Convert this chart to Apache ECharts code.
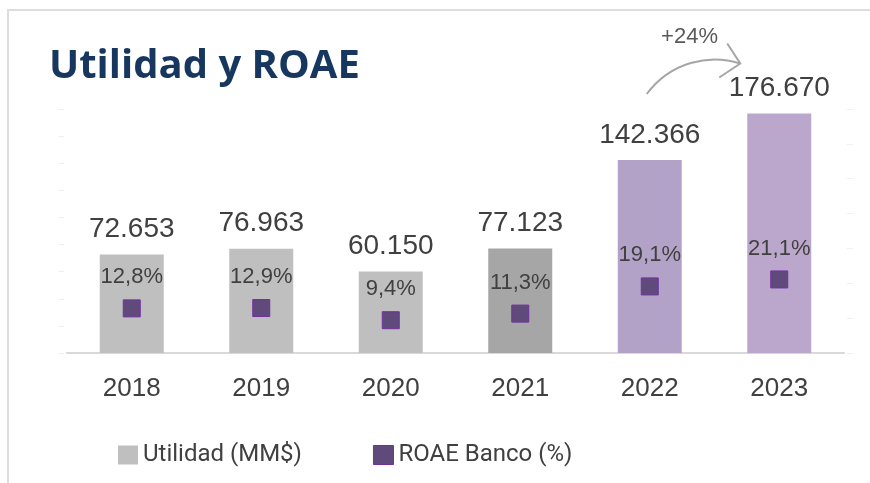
<!DOCTYPE html>
<html>
<head>
  <meta charset="utf-8">
  <title>Utilidad y ROAE</title>
  <style type="text/css">
    html, body { margin: 0; padding: 0; background: #fff; }
    #main { width: 870px; height: 483px; }
  </style>
</head>
<body>
<div id="main"></div>
<script type="text/javascript" src="https://cdn.jsdelivr.net/npm/echarts@6/dist/echarts.min.js"></script>
<script type="text/javascript">
  var years = ['2018', '2019', '2020', '2021', '2022', '2023'];
  var utilidad = [72653, 76963, 60150, 77123, 142366, 176670];
  var roae = [12.8, 12.9, 9.4, 11.3, 19.1, 21.1];

  var barColors = ['#bfbfbf', '#bfbfbf', '#bfbfbf', '#a6a6a6', '#b3a2c7', '#bca7cc'];
  var txt = '#404040';

  function fmtMiles(v) {
    return String(v).replace(/\B(?=(\d{3})+(?!\d))/g, '.');
  }
  function fmtPct(v) {
    return v.toFixed(1).replace('.', ',') + '%';
  }

  var myChart = echarts.init(document.getElementById('main'));

  var option = {
    backgroundColor: '#fff',
    animation: false,
    title: {
      text: 'Utilidad y ROAE',
      left: 44,
      top: 42,
      textStyle: {
        fontFamily: 'Open Sans',
        fontWeight: 700,
        fontSize: 40,
        color: '#17375e'
      }
    },
    legend: {
      bottom: 11,
      left: 113,
      itemWidth: 20,
      itemHeight: 19,
      itemGap: 71,
      textStyle: {
        fontFamily: 'Roboto',
        fontSize: 24,
        color: txt
      },
      data: [
        { name: 'Utilidad (MM$)', icon: 'rect', itemStyle: { color: '#bfbfbf' } },
        { name: 'ROAE Banco (%)', icon: 'rect', itemStyle: { color: '#604a7b', borderColor: '#7030a0', borderWidth: 1 } }
      ]
    },
    grid: {
      left: 67,
      right: 26,
      top: 109,
      bottom: 130
    },
    xAxis: {
      type: 'category',
      data: years,
      axisLine: { lineStyle: { color: '#d9d9d9', width: 2 } },
      axisTick: { show: false },
      axisLabel: {
        margin: 23,
        fontFamily: 'Liberation Sans',
        fontSize: 26,
        color: txt
      }
    },
    yAxis: [
      {
        type: 'value',
        min: 0,
        max: 180000,
        interval: 20000,
        offset: 3,
        axisLine: { show: false },
        axisTick: { show: true, length: 6, lineStyle: { color: '#f0f0f0' } },
        axisLabel: { show: false },
        splitLine: { show: false }
      },
      {
        type: 'value',
        min: 0,
        max: 70,
        interval: 10,
        offset: 3,
        axisLine: { show: false },
        axisTick: { show: true, length: 6, lineStyle: { color: '#f0f0f0' } },
        axisLabel: { show: false },
        splitLine: { show: false }
      }
    ],
    series: [
      {
        name: 'Utilidad (MM$)',
        type: 'bar',
        data: utilidad,
        barWidth: 64,
        itemStyle: {
          color: function (p) { return barColors[p.dataIndex]; }
        },
        label: {
          show: true,
          position: 'top',
          distance: 11,
          fontFamily: 'Liberation Sans',
          fontSize: 28,
          color: txt,
          formatter: function (p) { return fmtMiles(p.value); }
        }
      },
      {
        name: 'ROAE Banco (%)',
        type: 'scatter',
        yAxisIndex: 1,
        data: roae,
        symbol: 'rect',
        symbolSize: 17,
        itemStyle: {
          color: '#604a7b',
          borderColor: '#7030a0',
          borderWidth: 1,
          opacity: 1
        },
        label: {
          show: true,
          position: 'top',
          distance: 11,
          fontFamily: 'Liberation Sans',
          fontSize: 22,
          color: txt,
          formatter: function (p) { return fmtPct(p.value); }
        }
      }
    ]
  };

  myChart.setOption(option);

  // marco del panel y flecha de crecimiento 2022 -> 2023
  var n = years.length;
  var p0 = myChart.convertToPixel({ seriesIndex: 0 }, [n - 2, utilidad[n - 2]]);
  var p1 = myChart.convertToPixel({ seriesIndex: 0 }, [n - 1, utilidad[n - 1]]);
  var growth = Math.round((utilidad[n - 1] / utilidad[n - 2] - 1) * 100);
  var sx = p0[0] - 3, sy = p0[1] - 66;
  var ex = p1[0] - 39, ey = p1[1] - 50;

  myChart.setOption({
    graphic: [
      {
        type: 'polyline',
        silent: true,
        shape: { points: [[8, 483], [8, 10], [870, 10]] },
        style: { stroke: '#dddddd', lineWidth: 2, fill: null }
      },
      {
        type: 'bezierCurve',
        silent: true,
        shape: {
          x1: sx, y1: sy,
          cpx1: sx + 24, cpy1: sy - 32,
          cpx2: sx + 62, cpy2: ey - 10,
          x2: ex, y2: ey
        },
        style: { stroke: '#a6a6a6', lineWidth: 2, fill: null }
      },
      {
        type: 'polyline',
        silent: true,
        shape: { points: [[ex - 13, ey - 20], [ex, ey], [ex - 21, ey + 14]] },
        style: { stroke: '#a6a6a6', lineWidth: 2, fill: null }
      },
      {
        type: 'text',
        silent: true,
        style: {
          x: (sx + ex) / 2 - 4,
          y: ey - 27,
          text: '+' + growth + '%',
          align: 'center',
          verticalAlign: 'middle',
          font: '22px "Liberation Sans"',
          fill: '#595959'
        }
      }
    ]
  });
</script>
</body>
</html>
